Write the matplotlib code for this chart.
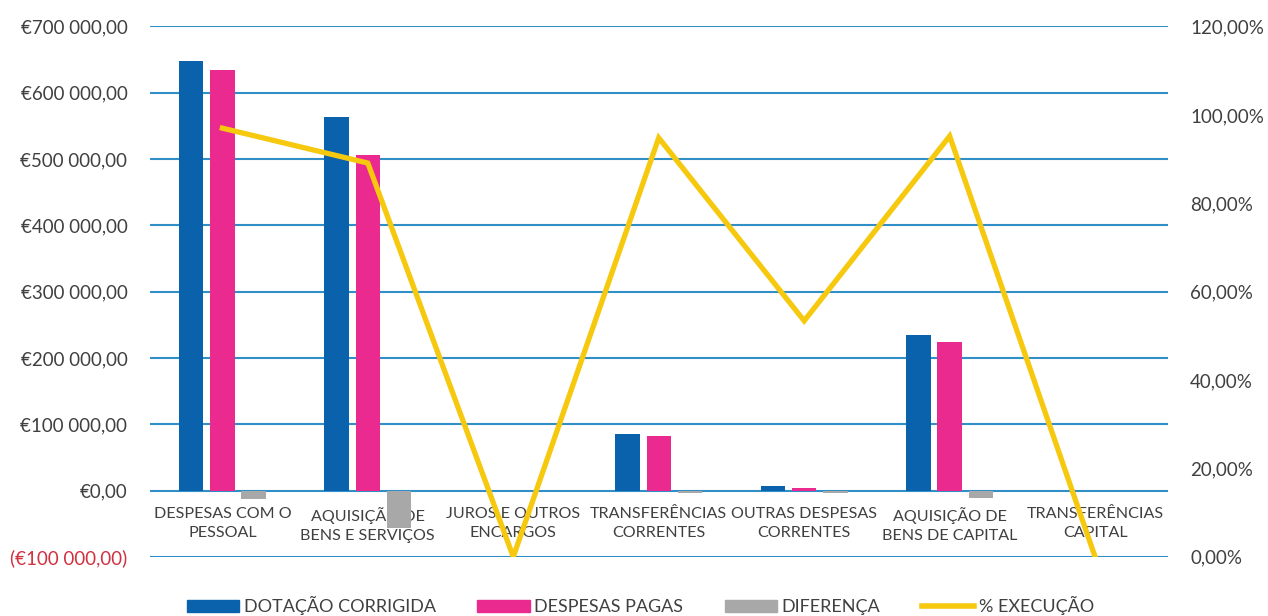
import matplotlib
matplotlib.use("Agg")
import matplotlib.pyplot as plt
import numpy as np
from matplotlib.patches import Patch
from matplotlib.lines import Line2D

plt.rcParams['font.family'] = ['Lato', 'DejaVu Sans']

categories = ["DESPESAS COM O\nPESSOAL", "AQUISIÇÃO DE\nBENS E SERVIÇOS", "JUROS E OUTROS\nENCARGOS",
              "TRANSFERÊNCIAS\nCORRENTES", "OUTRAS DESPESAS\nCORRENTES", "AQUISIÇÃO DE\nBENS DE CAPITAL",
              "TRANSFERÊNCIAS\nCAPITAL"]
dotacao = [648500, 564000, 0, 86000, 7500, 235000, 0]
pagas = [635000, 506000, 0, 82000, 4000, 224000, 0]
diferenca = [-13000, -57000, 0, -3000, -3500, -11000, 0]
execucao = [0.970, 0.891, 0.0, 0.948, 0.534, 0.952, 0.0]

left_ticks = [-100000, 0, 100000, 200000, 300000, 400000, 500000, 600000, 700000]
left_labels = ["(€100 000,00)", "€0,00", "€100 000,00", "€200 000,00", "€300 000,00",
               "€400 000,00", "€500 000,00", "€600 000,00", "€700 000,00"]
right_ticks = [0, 0.2, 0.4, 0.6, 0.8, 1.0, 1.2]
right_labels = ["0,00%", "20,00%", "40,00%", "60,00%", "80,00%", "100,00%", "120,00%"]
legend_labels = ["DOTAÇÃO CORRIGIDA", "DESPESAS PAGAS", "DIFERENÇA", "% EXECUÇÃO"]

c_blue = "#0A62AC"
c_pink = "#EA2A8E"
c_gray = "#A8A8A8"
c_yellow = "#F6C80E"
c_grid = "#2F8FC6"
c_text = "#404040"

fig = plt.figure(figsize=(12.68, 6.16), dpi=100)
ax = fig.add_axes([0.118, 0.096, 0.803, 0.861])

x = np.arange(len(categories))
w = 0.168
off = 0.215
ax.bar(x - off, dotacao, w, color=c_blue, zorder=3)
ax.bar(x, pagas, w, color=c_pink, zorder=3)
ax.bar(x + off, diferenca, w, color=c_gray, zorder=3)

ax.set_xlim(-0.5, len(categories) - 0.5)
ax.set_ylim(-100000, 700000)
ax.set_yticks(left_ticks, labels=left_labels)
ax.grid(axis='y', color=c_grid, lw=1.5, zorder=0)
ax.set_axisbelow(True)
for s in ax.spines.values():
    s.set_visible(False)
ax.spines['bottom'].set_position(('data', 0))
ax.set_xticks(x, labels=categories)
ax.tick_params(axis='x', length=0, pad=12, labelsize=11.6, labelcolor=c_text)
ax.tick_params(axis='y', length=0, pad=16, labelsize=13.5, labelcolor=c_text)
for t in ax.get_xticklabels():
    t.set_linespacing(1.45)
ax.get_yticklabels()[0].set_color("#D03040")

ax2 = ax.twinx()
ax2.set_position(ax.get_position())
ax2.plot(x, execucao, color=c_yellow, lw=3.8, solid_joinstyle='miter', zorder=4)
ax2.set_ylim(0, 1.2)
ax2.set_yticks(right_ticks, labels=right_labels)
ax2.tick_params(axis='y', length=0, pad=16, labelsize=13.5, labelcolor=c_text)
for s in ax2.spines.values():
    s.set_visible(False)

handles = [Patch(color=c_blue), Patch(color=c_pink), Patch(color=c_gray),
           Line2D([0], [0], color=c_yellow, lw=4)]
fig.legend(handles, legend_labels, loc='lower center', bbox_to_anchor=(0.505, -0.025), ncol=4,
           frameon=False, fontsize=13, handlelength=2.9, handleheight=0.6, handletextpad=0.25,
           columnspacing=2.3, labelcolor=c_text)

fig.savefig("out.png", dpi=100)
